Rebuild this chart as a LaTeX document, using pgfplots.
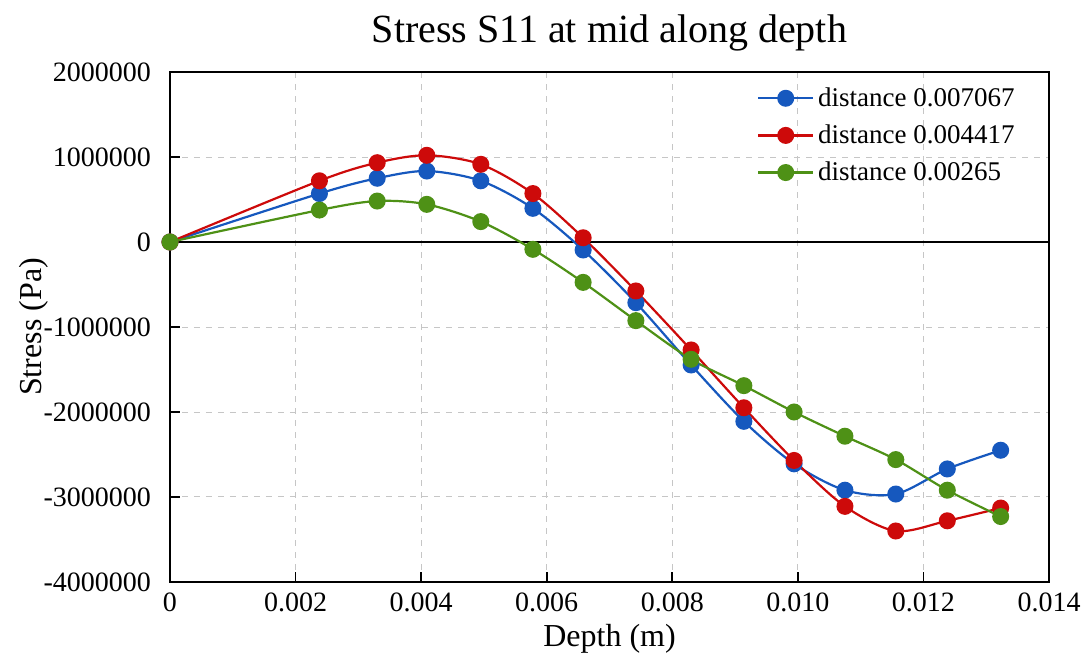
\documentclass[border=0pt]{standalone}
\usepackage{pgfplots}
\pgfplotsset{compat=1.18}
\usepackage{fontspec}
\setmainfont{Liberation Serif}

\definecolor{sblue}{RGB}{22,88,190}
\definecolor{sred}{RGB}{205,10,10}
\definecolor{sgreen}{RGB}{78,145,22}

\begin{document}
\begin{tikzpicture}
\begin{axis}[
    scale only axis,
    width=439.5pt, height=255pt,
    xmin=0, xmax=0.014,
    ymin=-4000000, ymax=2000000,
    scaled ticks=false,
    axis line style={black, line width=0.9pt},
    tick style={black, line width=0.8pt},
    tick align=inside,
    major tick length=5pt,
    xtick={0,0.002,0.004,0.006,0.008,0.010,0.012,0.014},
    xticklabels={0,0.002,0.004,0.006,0.008,0.010,0.012,0.014},
    ytick={-4000000,-3000000,-2000000,-1000000,0,1000000,2000000},
    yticklabels={-4000000,-3000000,-2000000,-1000000,0,1000000,2000000},
    xtick pos=bottom, ytick pos=left,
    ticklabel style={font=\fontsize{14}{16}\selectfont},
    yticklabel style={xshift=-6pt},
    xticklabel style={yshift=-2pt},
    grid=major,
    major grid style={gray!45, dashed, line width=0.5pt},
    title={Stress S11 at mid along depth},
    title style={font=\fontsize{20}{24}\selectfont, yshift=1pt},
    xlabel={Depth (m)},
    ylabel={Stress (Pa)},
    label style={font=\fontsize{16}{18}\selectfont},
    xlabel style={yshift=1pt},
    ylabel style={yshift=-9pt},
    legend style={at={(1,1)}, anchor=north east, xshift=-12pt, yshift=-3.5pt,
        draw=none, fill=none, font=\fontsize{13.5}{15}\selectfont,
        row sep=3.7pt, cells={anchor=west}},
    legend image code/.code={
        \draw[mark repeat=2, mark phase=2] plot coordinates {(0cm,0cm) (0.48cm,0cm) (0.96cm,0cm)};},
    every axis plot/.append style={line width=1.1pt, mark=*, mark size=3.7pt, smooth},
]
\draw[black, line width=0.8pt] (axis cs:0,0) -- (axis cs:0.014,0);

\addplot[color=sblue, mark options={fill=sblue, draw=sblue}] coordinates {
(0,0) (0.00238,570000) (0.00330,750000) (0.00409,835000) (0.00495,720000)
(0.00578,396000) (0.00658,-94000) (0.00742,-714000) (0.00830,-1447000)
(0.00914,-2110000) (0.00994,-2610000) (0.01075,-2920000) (0.01156,-2965000)
(0.01238,-2670000) (0.01323,-2450000)};
\addlegendentry{distance 0.007067}

\addplot[color=sred, mark options={fill=sred, draw=sred}] coordinates {
(0,0) (0.00238,720000) (0.00330,933000) (0.00409,1020000) (0.00495,914000)
(0.00578,570000) (0.00658,50000) (0.00742,-576000) (0.00830,-1270000)
(0.00914,-1950000) (0.00994,-2570000) (0.01075,-3110000) (0.01156,-3400000)
(0.01238,-3280000) (0.01323,-3130000)};
\addlegendentry{distance 0.004417}

\addplot[color=sgreen, mark options={fill=sgreen, draw=sgreen}] coordinates {
(0,0) (0.00238,376000) (0.00330,482000) (0.00409,443000) (0.00495,240000)
(0.00578,-86000) (0.00658,-475000) (0.00742,-925000) (0.00830,-1380000)
(0.00914,-1690000) (0.00994,-2000000) (0.01075,-2285000) (0.01156,-2560000)
(0.01238,-2920000) (0.01323,-3230000)};
\addlegendentry{distance 0.00265}
\end{axis}
\pgfresetboundingbox
\path ([shift={(-85pt,-37.5pt)}]current axis.south west) rectangle ([shift={(18.5pt,36pt)}]current axis.north east);
\end{tikzpicture}
\end{document}
